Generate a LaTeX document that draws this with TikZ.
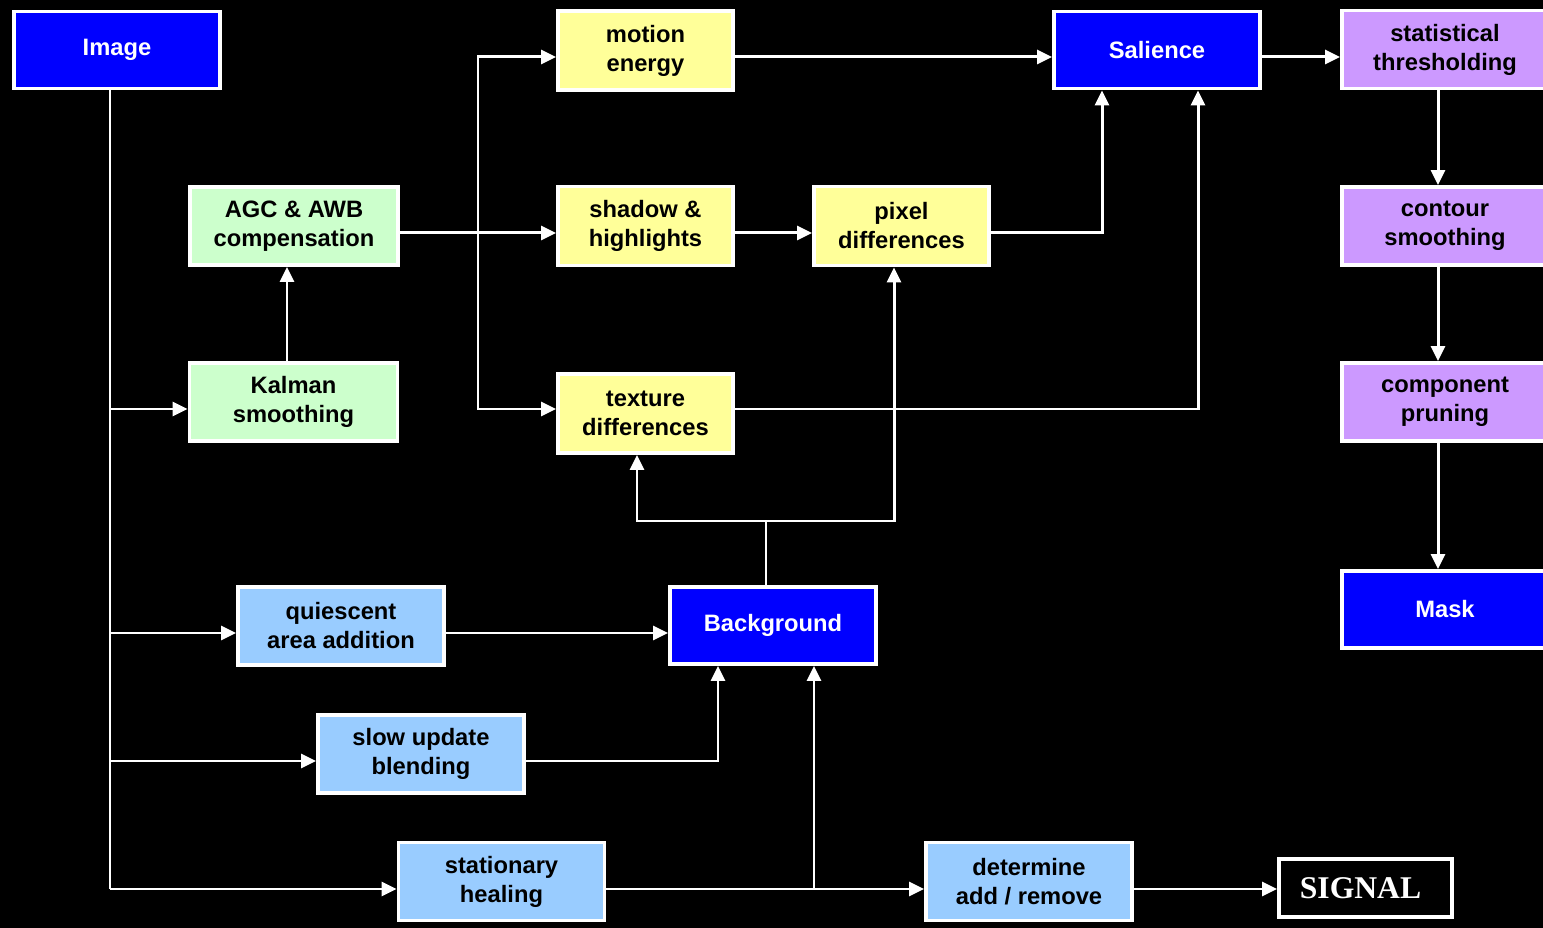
\documentclass[tikz,border=0pt]{standalone}
\usepackage{fontspec}
\setmainfont{Liberation Sans}
\newfontfamily\sigfont{Liberation Serif}
\usetikzlibrary{arrows.meta}

\definecolor{boxblue}{RGB}{0,0,255}
\definecolor{boxyellow}{RGB}{255,255,153}
\definecolor{boxgreen}{RGB}{204,255,204}
\definecolor{boxpurple}{RGB}{204,153,255}
\definecolor{boxlblue}{RGB}{153,204,255}

\begin{document}
\begin{tikzpicture}[x=0.02cm,y=-0.02cm,->,>={Triangle[length=0.3cm,width=0.28cm]},
  white,line width=1.7pt,
  base node/.style={rectangle,draw=white,line width=2.2pt,align=center,inner sep=0pt,
    font=\fontsize{13.5}{16.5}\selectfont\bfseries},
  blue node/.style={base node,fill=boxblue,text=white,minimum width=4.12cm,minimum height=1.54cm},
  yellow node/.style={base node,fill=boxyellow,text=black,minimum width=3.5cm,minimum height=1.58cm},
  green node/.style={base node,fill=boxgreen,text=black,minimum width=4.16cm,minimum height=1.56cm},
  purple node/.style={base node,fill=boxpurple,text=black,minimum width=4.12cm,minimum height=1.56cm},
  lblue node/.style={base node,fill=boxlblue,text=black,minimum width=4.12cm,minimum height=1.56cm},
  sig node/.style={base node,fill=black,text=white,minimum width=3.46cm,minimum height=1.16cm,
    font=\sigfont\fontsize{18}{20}\selectfont\bfseries}]

  \path[use as bounding box,fill=black,draw=none] (0,0) rectangle (1543,928);

  \node[blue node] (1) at (117,50) {Image};
  \node[yellow node] (2) at (645.5,50.5) {motion\\energy};
  \node[blue node] (3) at (1157,50) {Salience};
  \node[purple node] (4) at (1445,49.5) {statistical\\thresholding};
  \node[green node] (5) at (294,226) {AGC \& AWB\\compensation};
  \node[yellow node] (6) at (645.5,226) {shadow \&\\highlights};
  \node[yellow node] (7) at (901.5,226) {pixel\\differences};
  \node[purple node] (8) at (1445,226) {contour\\smoothing};
  \node[green node] (9) at (293.5,402) {Kalman\\smoothing};
  \node[yellow node] (10) at (645.5,413.5) {texture\\differences};
  \node[purple node] (11) at (1445,402) {component\\pruning};
  \node[lblue node] (12) at (341,626) {quiescent\\area addition};
  \node[blue node] (13) at (773,625.5) {Background};
  \node[blue node] (14) at (1445,609.5) {Mask};
  \node[lblue node] (15) at (421,754) {slow update\\blending};
  \node[lblue node] (16) at (501.5,881.5) {stationary\\healing};
  \node[lblue node] (17) at (1029,881.5) {determine\\add / remove};
  \node[sig node] (18) at (1365.5,888) {SIGNAL\hspace{0.2cm}};

  % junctions
  \coordinate (c1) at (110,409);
  \coordinate (c2) at (110,633);
  \coordinate (c3) at (110,761);
  \coordinate (c4) at (110,889);
  \coordinate (c5) at (478,57);
  \coordinate (c6) at (478,409);
  \coordinate (c7) at (478,233);
  \coordinate (c8) at (766,521);
  \coordinate (c9) at (814,889);
  \coordinate (c10) at (1102,233);
  \coordinate (c11) at (1198,409);
  \coordinate (c12) at (1438,0);
  \coordinate (c13) at (637,521);
  \coordinate (c14) at (894,521);
  \coordinate (c15) at (718,761);
  \coordinate (c16) at (287,0);

  % image trunk
  \draw[-] (1.south -| c4) -- (c4);
  \draw (c4) -- (16.west |- c4);
  \draw (c1) -- (9.west |- c1);
  \draw (c2) -- (12.west |- c2);
  \draw (c3) -- (15.west |- c3);
  \draw (9.north -| c16) -- (5.south -| c16);

  % feature paths
  \draw (5.east |- c7) -- (6.west |- c7);
  \draw (c7) -- (c5) -- (2.west |- c5);
  \draw (c7) -- (c6) -- (10.west |- c6);
  \draw (2.east |- c5) -- (3.west |- c5);
  \draw (6.east |- c7) -- (7.west |- c7);
  \draw (7.east |- c10) -- (c10) -- (3.south -| c10);
  \draw (10.east |- c11) -- (c11) -- (3.south -| c11);

  % mask chain
  \draw (3.east |- c5) -- (4.west |- c5);
  \draw (4.south -| c12) -- (8.north -| c12);
  \draw (8.south -| c12) -- (11.north -| c12);
  \draw (11.south -| c12) -- (14.north -| c12);

  % background
  \draw[-] (13.north -| c8) -- (c8);
  \draw (c8) -- (c13) -- (10.south -| c13);
  \draw (c8) -- (c14) -- (7.south -| c14);
  \draw (12.east |- c2) -- (13.west |- c2);
  \draw (15.east |- c15) -- (c15) -- (13.south -| c15);
  \draw (16.east |- c4) -- (17.west |- c4);
  \draw (c9) -- (13.south -| c9);
  \draw (17.east |- c4) -- (18.west |- c4);

\end{tikzpicture}
\end{document}
